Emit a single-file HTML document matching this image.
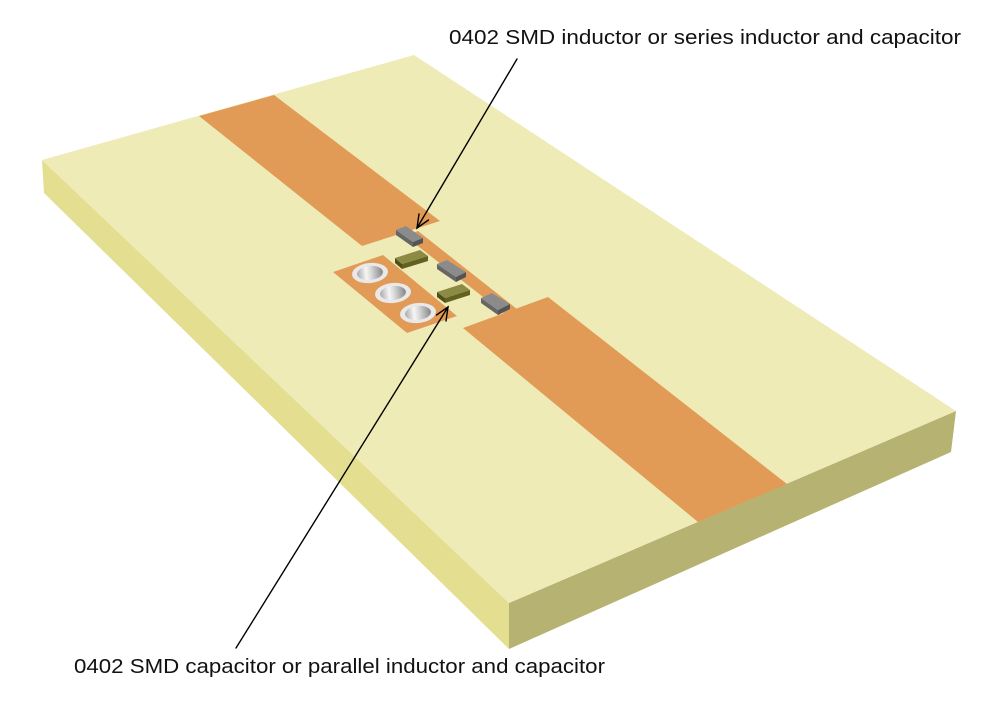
<!DOCTYPE html>
<html>
<head>
<meta charset="utf-8">
<style>
  html, body { margin: 0; padding: 0; background: #ffffff; }
  svg { display: block; }
  text { font-family: "Liberation Sans", sans-serif; font-size: 20px; fill: #111111; }
</style>
</head>
<body>
<svg width="1000" height="707" viewBox="0 0 1000 707" xmlns="http://www.w3.org/2000/svg">
  <defs>
    <linearGradient id="hole" x1="0" y1="0" x2="1" y2="0">
      <stop offset="0" stop-color="#a9a9a9"/>
      <stop offset="0.35" stop-color="#f6f6f6"/>
      <stop offset="0.55" stop-color="#d8d8d8"/>
      <stop offset="1" stop-color="#858585"/>
    </linearGradient>
  </defs>

  <!-- Board faces -->
  <polygon points="42,160 509,603 509,649 44,193" fill="#e3de90"/>
  <polygon points="509,603 956,411 951,452 509,649" fill="#b6b272"/>
  <polygon points="42,160 414,55 956,411 509,603" fill="#eeebb7"/>

  <!-- Traces -->
  <polygon points="199,116 274,95 440,221 362,246" fill="#e29b56"/>
  <polygon points="463,328 548,297 787,484 698,522" fill="#e29b56"/>
  <!-- thin strip -->
  <polygon points="405,236 418,231 522,313 510,318" fill="#e29b56"/>
  <!-- via pad -->
  <polygon points="333,272 383,255 457,316 407,333" fill="#e29b56"/>

  <!-- Vias -->
  <g transform="rotate(-6 370 273)">
    <ellipse cx="370" cy="273" rx="18" ry="10" fill="#e9e9e9"/>
    <ellipse cx="370" cy="273" rx="13" ry="7" fill="url(#hole)"/>
  </g>
  <g transform="rotate(-6 393 293)">
    <ellipse cx="393" cy="293" rx="18" ry="10" fill="#e9e9e9"/>
    <ellipse cx="393" cy="293" rx="13" ry="7" fill="url(#hole)"/>
  </g>
  <g transform="rotate(-6 418 313)">
    <ellipse cx="418" cy="313" rx="18" ry="10" fill="#e9e9e9"/>
    <ellipse cx="418" cy="313" rx="13" ry="7" fill="url(#hole)"/>
  </g>

  <!-- Gray component 1 -->
  <polygon points="396,230 413,242 413,247 396,235" fill="#666666"/>
  <polygon points="413,242 423,238 423,243 413,247" fill="#545454"/>
  <polygon points="396,230 406,226 423,238 413,242" fill="#8b8b8b"/>

  <!-- Gray component 2 -->
  <polygon points="437,264 456,277 456,282 437,269" fill="#666666"/>
  <polygon points="456,277 466,272 466,277 456,282" fill="#545454"/>
  <polygon points="437,264 447,260 466,272 456,277" fill="#8b8b8b"/>

  <!-- Gray component 3 -->
  <polygon points="481,298 498,310 498,315 481,303" fill="#666666"/>
  <polygon points="498,310 510,304 510,309 498,315" fill="#545454"/>
  <polygon points="481,298 492,293 510,304 498,310" fill="#8b8b8b"/>

  <!-- Green component 1 -->
  <polygon points="395,258 402,264 402,269 395,263" fill="#4f4f1a"/>
  <polygon points="402,264 428,256 428,261 402,269" fill="#62611f"/>
  <polygon points="395,258 420,250 428,256 402,264" fill="#8c8a45"/>

  <!-- Green component 2 -->
  <polygon points="437,292 445,298 445,303 437,297" fill="#4f4f1a"/>
  <polygon points="445,298 470,290 470,295 445,303" fill="#62611f"/>
  <polygon points="437,292 462,284 470,290 445,298" fill="#8c8a45"/>

  <!-- Arrows -->
  <g stroke="#000000" stroke-width="1.4" fill="none" stroke-linecap="round">
    <line x1="517" y1="59" x2="417" y2="228"/>
    <polyline points="428.5,220 417,228 419,214"/>
    <line x1="236" y1="648" x2="448" y2="307"/>
    <polyline points="436.5,315 448,307 446,321"/>
  </g>

  <!-- Labels -->
  <text x="449" y="44" textLength="512" lengthAdjust="spacingAndGlyphs">0402 SMD inductor or series inductor and capacitor</text>
  <text x="74" y="673" textLength="531" lengthAdjust="spacingAndGlyphs">0402 SMD capacitor or parallel inductor and capacitor</text>
</svg>
</body>
</html>
